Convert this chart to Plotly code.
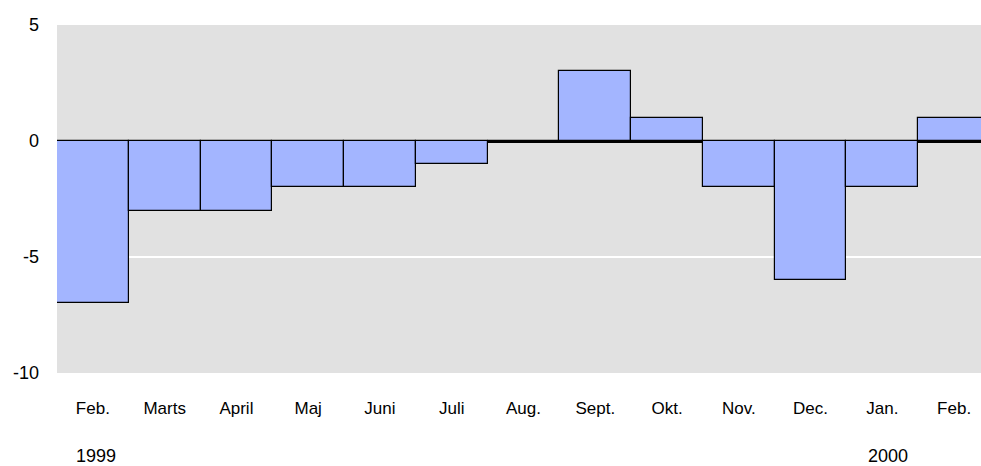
import plotly.graph_objects as go

months = ["Feb.", "Marts", "April", "Maj", "Juni", "Juli", "Aug.", "Sept.", "Okt.", "Nov.", "Dec.", "Jan.", "Feb."]
values = [-7, -3, -3, -2, -2, -1, 0, 3, 1, -2, -6, -2, 1]
years = ["1999", "2000"]
year_idx = [0, 11]
y_ticks = [5, 0, -5, -10]

FONT = "Liberation Sans, Arial, sans-serif"

x = list(range(len(months)))

fig = go.Figure(go.Bar(
    x=x, y=values,
    marker=dict(color="#a3b5ff", line=dict(color="black", width=1.2)),
    width=1.0,
))

for yr, idx, shift in zip(years, year_idx, [3, 6]):
    fig.add_annotation(x=idx, y=0, xref="x", yref="paper", yshift=-83, xshift=shift,
                       text=yr, showarrow=False, xanchor="center", yanchor="middle",
                       font=dict(family=FONT, size=18, color="black"))

fig.update_layout(
    width=990, height=466,
    margin=dict(l=57, r=0, t=25, b=93),
    paper_bgcolor="white", plot_bgcolor="#e1e1e1",
    showlegend=False, bargap=0,
    font=dict(family=FONT, size=17, color="black"),
    xaxis=dict(range=[-0.5, len(months) - 0.5], tickvals=x, ticktext=months,
               showgrid=False, zeroline=False, showline=False, ticks="",
               ticklabelstandoff=23, fixedrange=True),
    yaxis=dict(range=[-10, 5], tickvals=y_ticks, ticktext=[str(v) for v in y_ticks],
               tickfont=dict(size=18),
               showgrid=True, gridcolor="white", gridwidth=2,
               zeroline=True, zerolinecolor="black", zerolinewidth=2.5,
               showline=False, ticks="", ticklabelstandoff=17, fixedrange=True),
)

fig.write_html(
    "out.html",
    config={"displayModeBar": False},
    post_script="document.body.style.margin='0';document.body.style.overflow='hidden';",
)
